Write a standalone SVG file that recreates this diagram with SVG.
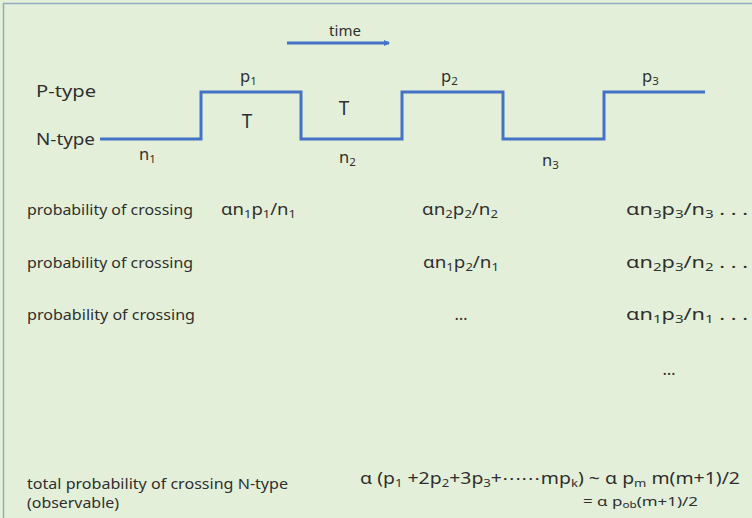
<svg xmlns="http://www.w3.org/2000/svg" width="752" height="518" viewBox="0 0 752 518">
<defs>
<style>
text{font-family:"Noto Sans","Liberation Sans",Arial,sans-serif;fill:#2f2f2f;font-size:15px}
.lbl{font-size:17px}
.f{font-size:16.5px}
.sub{font-size:11.5px}
.wave{fill:none;stroke:#4472c4;stroke-width:3;stroke-linejoin:miter}
</style>
<marker id="ah" markerWidth="6" markerHeight="6" refX="5" refY="3" orient="auto" markerUnits="userSpaceOnUse">
<path d="M0,0 L6,3 L0,6 z" fill="#4472c4"/>
</marker>
</defs>
<rect x="0" y="0" width="752" height="518" fill="#e3efd9"/>
<path d="M3.5,518 V3.5 H752" fill="none" stroke="#93aac2" stroke-width="1.5"/>

<g id="time">
<text x="345" y="36" text-anchor="middle">time</text>
</g>
<g id="connectors">
<line x1="287" y1="43" x2="389" y2="43" stroke="#4472c4" stroke-width="3" marker-end="url(#ah)"/>
<path class="wave" d="M100,139 H201 V92 H301 V139 H402 V92 H503 V139 H604 V92 H705"/>
</g>

<g id="ptype"><text class="lbl" x="36" y="97" textLength="60" lengthAdjust="spacingAndGlyphs">P-type</text></g>
<g id="ntype"><text class="lbl" x="36" y="145" textLength="59" lengthAdjust="spacingAndGlyphs">N-type</text></g>

<g id="p1"><text class="f" x="240" y="82">p<tspan class="sub" dy="3">1</tspan></text></g>
<g id="p2"><text class="f" x="441" y="82">p<tspan class="sub" dy="3">2</tspan></text></g>
<g id="p3"><text class="f" x="642" y="82">p<tspan class="sub" dy="3">3</tspan></text></g>
<g id="n1"><text class="f" x="139" y="160">n<tspan class="sub" dy="3">1</tspan></text></g>
<g id="n2"><text class="f" x="339" y="163">n<tspan class="sub" dy="3">2</tspan></text></g>
<g id="n3"><text class="f" x="542" y="166">n<tspan class="sub" dy="3">3</tspan></text></g>
<g id="T1"><text x="247" y="128" text-anchor="middle" style="font-size:19px">T</text></g>
<g id="T2"><text x="344" y="115" text-anchor="middle" style="font-size:19px">T</text></g>

<g id="row1">
<text x="27" y="215" textLength="166" lengthAdjust="spacingAndGlyphs">probability of crossing</text>
<text class="f" x="221" y="215" textLength="75" lengthAdjust="spacingAndGlyphs">αn<tspan class="sub" dy="3">1</tspan><tspan dy="-3">p</tspan><tspan class="sub" dy="3">1</tspan><tspan dy="-3">/n</tspan><tspan class="sub" dy="3">1</tspan></text>
<text class="f" x="422" y="215" textLength="76" lengthAdjust="spacingAndGlyphs">αn<tspan class="sub" dy="3">2</tspan><tspan dy="-3">p</tspan><tspan class="sub" dy="3">2</tspan><tspan dy="-3">/n</tspan><tspan class="sub" dy="3">2</tspan></text>
<text class="f" x="626" y="215" textLength="122" lengthAdjust="spacingAndGlyphs">αn<tspan class="sub" dy="3">3</tspan><tspan dy="-3">p</tspan><tspan class="sub" dy="3">3</tspan><tspan dy="-3">/n</tspan><tspan class="sub" dy="3">3</tspan><tspan dy="-3">  .  . .</tspan></text>
</g>
<g id="row2">
<text x="27" y="268" textLength="166" lengthAdjust="spacingAndGlyphs">probability of crossing</text>
<text class="f" x="423" y="268" textLength="76" lengthAdjust="spacingAndGlyphs">αn<tspan class="sub" dy="3">1</tspan><tspan dy="-3">p</tspan><tspan class="sub" dy="3">2</tspan><tspan dy="-3">/n</tspan><tspan class="sub" dy="3">1</tspan></text>
<text class="f" x="626" y="268" textLength="122" lengthAdjust="spacingAndGlyphs">αn<tspan class="sub" dy="3">2</tspan><tspan dy="-3">p</tspan><tspan class="sub" dy="3">3</tspan><tspan dy="-3">/n</tspan><tspan class="sub" dy="3">2</tspan><tspan dy="-3">  .  . .</tspan></text>
</g>
<g id="row3">
<text x="27" y="320" textLength="168" lengthAdjust="spacingAndGlyphs">probability of crossing</text>
<text class="f" x="461" y="320" text-anchor="middle">…</text>
<text class="f" x="626" y="320" textLength="122" lengthAdjust="spacingAndGlyphs">αn<tspan class="sub" dy="3">1</tspan><tspan dy="-3">p</tspan><tspan class="sub" dy="3">3</tspan><tspan dy="-3">/n</tspan><tspan class="sub" dy="3">1</tspan><tspan dy="-3"> .  . .</tspan></text>
</g>
<g id="dots"><text class="f" x="669" y="375" text-anchor="middle">…</text></g>

<g id="total">
<text x="27" y="489" style="font-size:14.5px" textLength="261" lengthAdjust="spacingAndGlyphs">total probability of crossing N-type</text>
<text x="27" y="508" style="font-size:14.5px" textLength="92" lengthAdjust="spacingAndGlyphs">(observable)</text>
<text class="f" x="360" y="484" style="font-size:17px" textLength="380" lengthAdjust="spacingAndGlyphs">α (p<tspan class="sub" dy="3">1</tspan><tspan dy="-3"> +2p</tspan><tspan class="sub" dy="3">2</tspan><tspan dy="-3">+3p</tspan><tspan class="sub" dy="3">3</tspan><tspan dy="-3">+⋯⋯mp</tspan><tspan class="sub" dy="3">k</tspan><tspan dy="-3">) ~ α p</tspan><tspan class="sub" dy="3">m</tspan><tspan dy="-3"> m(m+1)/2</tspan></text>
<text x="583" y="506" style="font-size:13px" textLength="115" lengthAdjust="spacingAndGlyphs">= α p<tspan class="sub" dy="2" style="font-size:9px">ob</tspan><tspan dy="-2">(m+1)/2</tspan></text>
</g>
</svg>
